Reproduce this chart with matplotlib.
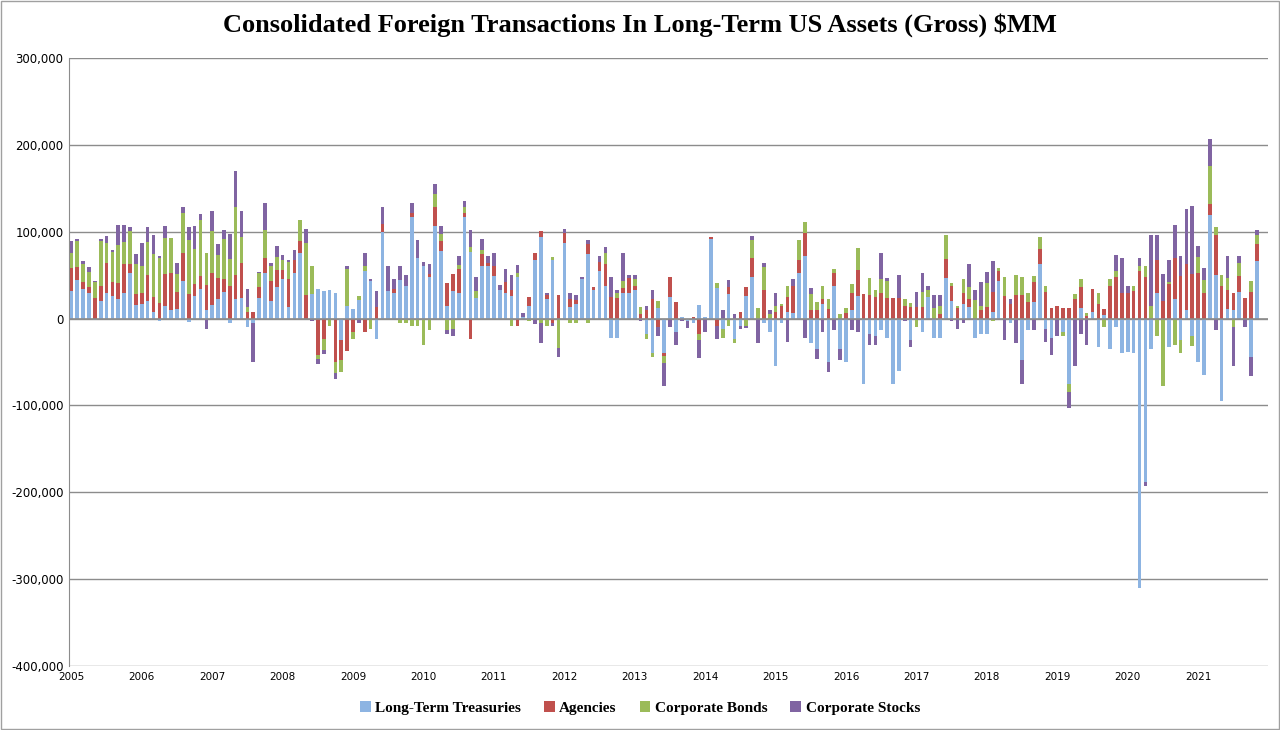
import matplotlib.pyplot as plt
import numpy as np

# monthly values, $bn (Jan 2005 .. Nov 2021)
treasuries = [
    32, 44, 34, 29, -2, 20, 29, 26, 22, 30, 52, 16,
    17, 20, 8, -3, 15, 10, 11, 43, -4, 26, 34, 10,
    16, 23, 31, -5, 22, 24, -10, -5, 24, 53, 20, 36,
    46, 13, 52, 76, 0, 28, 34, 32, 33, 29, -25, 15,
    11, 21, 55, 43, -23, 100, 32, 29, 44, 38, 117, 70,
    61, 48, 107, 78, 15, 32, 30, 117, 77, 24, 60, 60,
    49, 33, 29, 26, 48, 2, 15, 67, 94, 22, 67, 0,
    87, 13, 17, 46, 74, 33, 55, 38, -22, -22, 30, 30,
    33, 0, -18, -40, 12, -40, 25, -15, 2, -3, -5, 16,
    2, 92, 35, -12, 28, -23, -8, 26, 48, 0, -5, -15,
    -55, -5, 8, 6, 53, 72, -28, -35, 17, -50, 38, -35,
    -50, 10, 26, -75, -18, -20, -13, -22, -75, -60, 0, -25,
    0, -15, 25, -22, -22, 47, 20, 0, 17, 13, -22, -18,
    -18, 8, 43, 0, -5, 0, -48, -13, 19, 63, -12, -22,
    0, -15, -75, 0, 12, 0, 8, -33, 4, -35, -10, -40,
    -38, -40, -310, -188, -35, 29, 0, -33, 23, -25, 10, -20,
    -50, -65, 119, 50, -95, 11, 10, 31, 0, -44, 66,
]
agencies = [
    26, 15, 8, 7, 24, 18, 35, 16, 19, 33, 11, 12,
    13, 30, 17, 18, 36, 42, 20, 33, 28, 14, 15, 29,
    36, 24, 15, 37, 28, 40, 8, 8, 12, 17, 23, 20,
    10, 33, 15, 13, 27, 0, -42, -23, 0, -50, -23, -37,
    -15, 0, -15, 0, 13, 9, 0, 5, 0, 0, 5, 0,
    0, 3, 21, 11, 26, 19, 27, 5, -23, 0, 14, 4,
    11, 0, 13, 7, -8, 0, 10, 8, 7, 5, -5, 27,
    12, 9, 4, 0, 12, 3, 10, 25, 25, 24, 5, 17,
    5, 5, 10, 23, -10, -3, 23, 19, 0, 0, 2, -18,
    0, 2, -8, 0, 8, 0, 7, 10, 22, 0, 33, 0,
    8, 14, 17, 31, 15, 26, 10, 10, 5, 11, 14, 0,
    6, 19, 30, 28, 27, 25, 30, 24, 24, 24, 15, 13,
    13, 13, 0, 0, 5, 22, 18, 12, 12, 10, 0, 10,
    13, 23, 12, 26, 17, 27, 27, 19, 23, 17, 31, 12,
    14, 12, 12, 22, 24, 3, 26, 17, 7, 38, 48, 30,
    30, 32, 55, 48, 0, 38, 20, 40, 47, 49, 53, 51,
    53, 30, 13, 46, 38, 22, 20, 18, 24, 31, 20,
]
corp_bonds = [
    18, 30, 21, 18, 18, 51, 23, 35, 44, 25, 38, 35,
    31, 38, 49, 52, 42, 41, 20, 45, 63, 40, 64, 36,
    49, 26, 46, 32, 78, 30, 5, 0, 16, 32, 17, 15,
    11, 19, 0, 24, 60, 33, -5, -13, -8, -13, -13, 42,
    -8, 5, 6, -12, 0, 0, 0, 0, -5, -5, -8, -8,
    -30, -13, 15, 8, -13, -12, 5, 7, 5, 8, 5, 0,
    0, 0, 0, -8, 5, 0, -3, 0, -5, -8, 4, -34,
    0, -5, -5, 0, -5, 0, 0, 13, 0, 5, 8, 0,
    7, 8, -5, -4, 8, -8, 0, 0, 0, 0, 0, -7,
    0, 0, 6, -10, -8, -5, 0, -8, 20, 12, 26, 5,
    6, 3, 12, 0, 23, 13, 18, 9, 16, 11, 5, 5,
    6, 11, 25, 0, 20, 8, 16, 19, 0, 0, 8, 5,
    -10, 18, 8, 12, 10, 27, 3, 3, 17, 13, 21, 4,
    28, -3, 3, 22, 0, 23, 21, 10, 7, 14, 6, 0,
    0, -5, -10, 6, 10, 3, 0, 12, -10, 8, 7, 0,
    0, 5, 5, 12, 15, -20, -78, 2, -30, -15, 0, -12,
    18, 14, 44, 10, 12, 14, -10, 15, 0, 12, 10,
]
corp_stocks = [
    13, 3, 3, 5, 1, 3, 8, 2, 23, 20, 5, 11,
    26, 17, 22, 2, 14, 0, 13, 8, 15, 27, 7, -12,
    23, 13, 10, 28, 42, 30, 21, -45, 2, 31, 4, 12,
    6, 2, 12, 0, 16, -3, -5, -5, 0, -6, 0, 3,
    0, -5, 15, 3, 19, 19, 29, 11, 16, 12, 11, 20,
    4, 12, 12, 10, -5, -8, 10, 6, 20, 16, 13, 8,
    16, 6, 15, 17, 9, 4, 0, -6, -23, 3, -3, -10,
    4, 8, 6, 2, 4, 0, 7, 6, 23, 4, 32, 3,
    5, -3, 5, 10, -10, -27, -10, -15, -3, -8, 0, -20,
    -15, 0, -15, 10, 8, 5, -4, -3, 5, -28, 5, 5,
    16, 0, -27, 9, 0, -22, 7, -12, -15, -12, -13, -13,
    0, -13, -15, 0, -12, -10, 29, 4, 0, 26, -3, -8,
    18, 21, 4, 15, 12, 0, -3, -12, -5, 27, 12, 28,
    13, 35, 0, -25, 6, -28, -27, 0, -13, 0, -15, -20,
    -20, 0, -18, -55, -18, -30, 0, 0, 0, 0, 18, 40,
    8, 0, 10, -5, 81, 29, 31, 25, 38, 23, 63, 79,
    12, 14, 31, -13, 0, 25, -45, 8, -10, -22, 6,
]
series_names = ['Long-Term Treasuries', 'Agencies', 'Corporate Bonds', 'Corporate Stocks']
year_labels = [str(y) for y in range(2005, 2022)]

colors = ['#8DB4E2', '#C0504D', '#9BBB59', '#8064A2']
data = np.array([treasuries, agencies, corp_bonds, corp_stocks], dtype=float) * 1000
n = data.shape[1]
x = np.arange(n)

fig = plt.figure(figsize=(12.8, 7.3), dpi=100)
ax = fig.add_axes([69 / 1280, 1 - 666 / 730, (1268 - 69) / 1280, (666 - 58) / 730])

pos_base = np.zeros(n)
neg_base = np.zeros(n)
for vals, col, name in zip(data, colors, series_names):
    pos = np.where(vals > 0, vals, 0)
    neg = np.where(vals < 0, vals, 0)
    ax.bar(x, pos, 0.62, bottom=pos_base, color=col, label=name, zorder=3)
    ax.bar(x, neg, 0.62, bottom=neg_base, color=col, zorder=3)
    pos_base += pos
    neg_base += neg

ax.set_xlim(-0.4, 203.9)
ax.set_ylim(-400000, 300000)
ax.set_yticks(np.arange(-400000, 300001, 100000))
ax.set_yticklabels([f'{v:,}' for v in range(-400000, 300001, 100000)], fontsize=8.5)
ax.set_xticks(np.arange(0, n, 12))
ax.set_xticklabels(year_labels, fontsize=7.5)
ax.tick_params(length=0, pad=4)
ax.yaxis.grid(True, color='#8c8c8c', lw=1, zorder=0)
ax.axhline(0, color='#8c8c8c', lw=1.2, zorder=4)
for s in ['top', 'right', 'bottom']:
    ax.spines[s].set_visible(False)
ax.spines['left'].set_color('#8c8c8c')

fig.text(0.5, 1 - 25 / 730, 'Consolidated Foreign Transactions In Long-Term US Assets (Gross) $MM',
         ha='center', va='center', fontsize=19, fontweight='bold', family='Liberation Serif')
fig.legend(loc='center', bbox_to_anchor=(0.5, 1 - 708 / 730), ncol=4, frameon=False,
           prop={'family': 'Liberation Serif', 'weight': 'bold', 'size': 11},
           handlelength=0.7, handleheight=0.7, columnspacing=1.5, handletextpad=0.3)
fig.patches.append(plt.Rectangle((0.001, 0.001), 0.998, 0.998, transform=fig.transFigure,
                                 fill=False, edgecolor='#a0a0a0', lw=1))
fig.savefig('out.png')
